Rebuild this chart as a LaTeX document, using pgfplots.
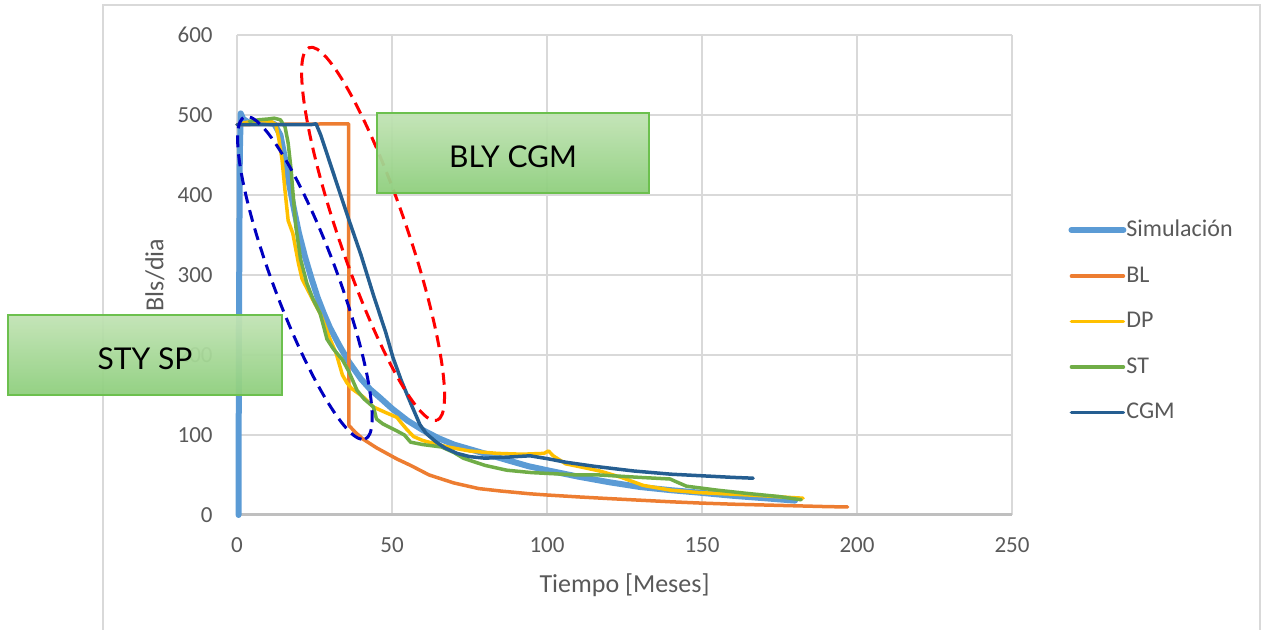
\documentclass[border=0pt]{standalone}
\usepackage{pgfplots}
\pgfplotsset{compat=1.18}
\usepackage{fontspec}
\setmainfont{Carlito}
\newfontfamily\boxfont{Lato}

\definecolor{cSim}{HTML}{5B9BD5}
\definecolor{cBL}{HTML}{ED7D31}
\definecolor{cDP}{HTML}{FFC000}
\definecolor{cST}{HTML}{70AD47}
\definecolor{cCGM}{HTML}{255E91}
\definecolor{gridc}{HTML}{D9D9D9}
\definecolor{axisc}{HTML}{BFBFBF}
\definecolor{labc}{HTML}{595959}
\definecolor{boxtop}{HTML}{C2E3B5}
\definecolor{boxbot}{HTML}{8ECF7D}
\definecolor{boxline}{HTML}{6CC04E}
\definecolor{ellblue}{HTML}{0000C0}

\begin{document}
\begin{tikzpicture}[x=0.5pt,y=0.5pt]
\useasboundingbox (0,0) rectangle (1261,630);
% chart area frame
\draw[gridc, line width=1pt] (103,0) -- (103,625) -- (1260,625) -- (1260,0);

\begin{axis}[
    at={(118.5pt,57.5pt)}, anchor=south west,
    scale only axis, width=387.5pt, height=240pt,
    xmin=0, xmax=250, ymin=0, ymax=600,
    xtick={0,50,...,250}, ytick={0,100,...,600},
    axis line style={draw=none},
    major tick length=0pt,
    grid=major,
    major grid style={gridc, line width=1pt},
    clip=false,
    tick label style={font=\fontsize{11.5}{13}\selectfont, text=labc},
    /pgf/number format/assume math mode=true,
    xticklabel style={inner sep=0pt, anchor=north, yshift=-11pt},
    yticklabel style={inner sep=0pt, anchor=east, xshift=-12pt},
    xlabel={Tiempo [Meses]},
    ylabel={Bls/dia},
    every axis x label/.style={at={(rel axis cs:0.5,0)}, anchor=center, yshift=-35pt,
        font=\fontsize{13}{15}\selectfont, text=labc},
    every axis y label/.style={at={(rel axis cs:0,0.5)}, anchor=center, rotate=90, yshift=41pt,
        font=\fontsize{13}{15}\selectfont, text=labc},
    legend style={at={(rel axis cs:1.0723,0.615)}, anchor=north west,
        draw=none, fill=none, inner sep=0pt, row sep=13.5pt, column sep=0pt,
        font=\fontsize{12}{14}\selectfont, text=labc,
        nodes={inner sep=0pt}},
    legend cell align=left,
    legend image code/.code={\draw[#1] (0pt,0pt) -- (26pt,0pt);},
    every axis plot/.append style={line cap=round, line join=round},
]
\draw[axisc, line width=1.5pt] (rel axis cs:0,0) -- (rel axis cs:1,0);

% Simulacion
\addplot[cSim, line width=3pt] coordinates {
(0.5,0)(0.6,200)(0.9,450)(1.2,502)(2,495)(4,490)(8,491)(12,489)(14,475)
(15.5,445)(17,410)(18.5,380)(20,352)(22,322)(24,296)(26,272)(28,252)
(30,234)(33,212)(36,192)(40,170)(43,157)(46,147)(50,133)(55,118)(60,106)
(65,96)(70,88)(78,79)(85,71)(94,61)(100,56)(110,48)(120,41)(130,35)
(140,31)(149,28)(160,24)(170,21)(180,18)};

% BL
\addplot[cBL, line width=1.75pt] coordinates {
(0,488)(35.7,489)(36,489)(36.1,112)(38,104)(40.6,95)(45,84)(51.6,70)
(56,62)(62,50)(70,40)(78,33)(85,30)(94.5,26.5)(100,25)(110.6,22.5)
(120,20.5)(130,18.5)(140,16.5)(149,15)(160,13.5)(170,12.5)(180,11.5)
(190,10.5)(197,10)};

% DP
\addplot[cDP, line width=1.75pt] coordinates {
(2,490)(5,492)(8,493)(11,492)(12.5,488)(13.5,470)(14.5,445)(15.5,405)
(16.5,368)(18,352)(19.8,315)(21,295)(23,280)(25,265)(26.8,252)(28.5,235)
(30,220)(32,202)(34,175)(35.5,165)(37,158)(40.6,148)(44,135)(48,128)
(51.6,122)(53,115)(55,106)(57,98)(60,93)(64,89)(68,85)(75,80)(84,77)
(92,76)(99,77)(100.5,80)(102,74)(106,64)(111,60)(117,55)(124,47)
(131,37)(140,31)(149,28)(160,26)(170,24)(178,22)(182.6,21)};

% ST
\addplot[cST, line width=1.75pt] coordinates {
(4,492)(7,494)(10,495)(12,496)(14,494)(15.5,485)(16.5,465)(17.5,430)
(18,405)(19,360)(20.5,320)(22.5,290)(24.5,270)(26.8,252)(28,235)(29,220)
(31,208)(34,194)(36,180)(38.7,156)(41,145)(44,135)(45,120)(47,114)
(51.6,105)(54,100)(56,91)(60,88)(66,85)(70,78)(73,71)(80,62)(87,56)
(95,53)(110,50)(117,50)(130,47)(139.7,45)(142,41)(145,36)(155,31)
(164.5,27)(175,23)(182,19)};

% CGM
\addplot[cCGM, line width=1.75pt] coordinates {
(0,488)(24,488)(25.5,489)(27,475)(30,440)(33,405)(36,370)(40,325)(44,275)
(48,228)(50.3,197)(53,168)(56,140)(59,113)(61,102)(64,92)(67,84)(71,77)
(75,73)(80,71)(88,72.5)(94.5,74)(100,70.5)(106,66)(115,61)(128,55)
(140,51)(150,49)(160,47)(166.5,46)};

\legend{Simulación,BL,DP,ST,CGM}

% dashed ellipses
\draw[red, line width=1.5pt, dash pattern=on 6pt off 3.5pt]
    (axis cs:43.9,351.3) circle[x radius=98.5pt, y radius=17pt, rotate=-71.1];
\draw[ellblue, line width=1.5pt, dash pattern=on 6pt off 3.5pt]
    (axis cs:21.9,296.3) circle[x radius=86pt, y radius=16pt, rotate=-69.5];
\end{axis}

% text boxes (slightly see-through)
\node[draw=boxline, line width=1pt, top color=boxtop, bottom color=boxbot,
      fill opacity=0.95, draw opacity=1,
      minimum width=137pt, minimum height=40pt, inner sep=0pt] at (145,275) {};
\node[font=\boxfont\fontsize{15}{18}\selectfont, inner sep=0pt] at (145,271.5) {STY SP};
\node[draw=boxline, line width=1pt, top color=boxtop, bottom color=boxbot,
      fill opacity=0.95, draw opacity=1,
      minimum width=136pt, minimum height=40pt, inner sep=0pt] at (513,477) {};
\node[font=\boxfont\fontsize{15}{18}\selectfont, inner sep=0pt] at (513,473.5) {BLY CGM};
\end{tikzpicture}
\end{document}
